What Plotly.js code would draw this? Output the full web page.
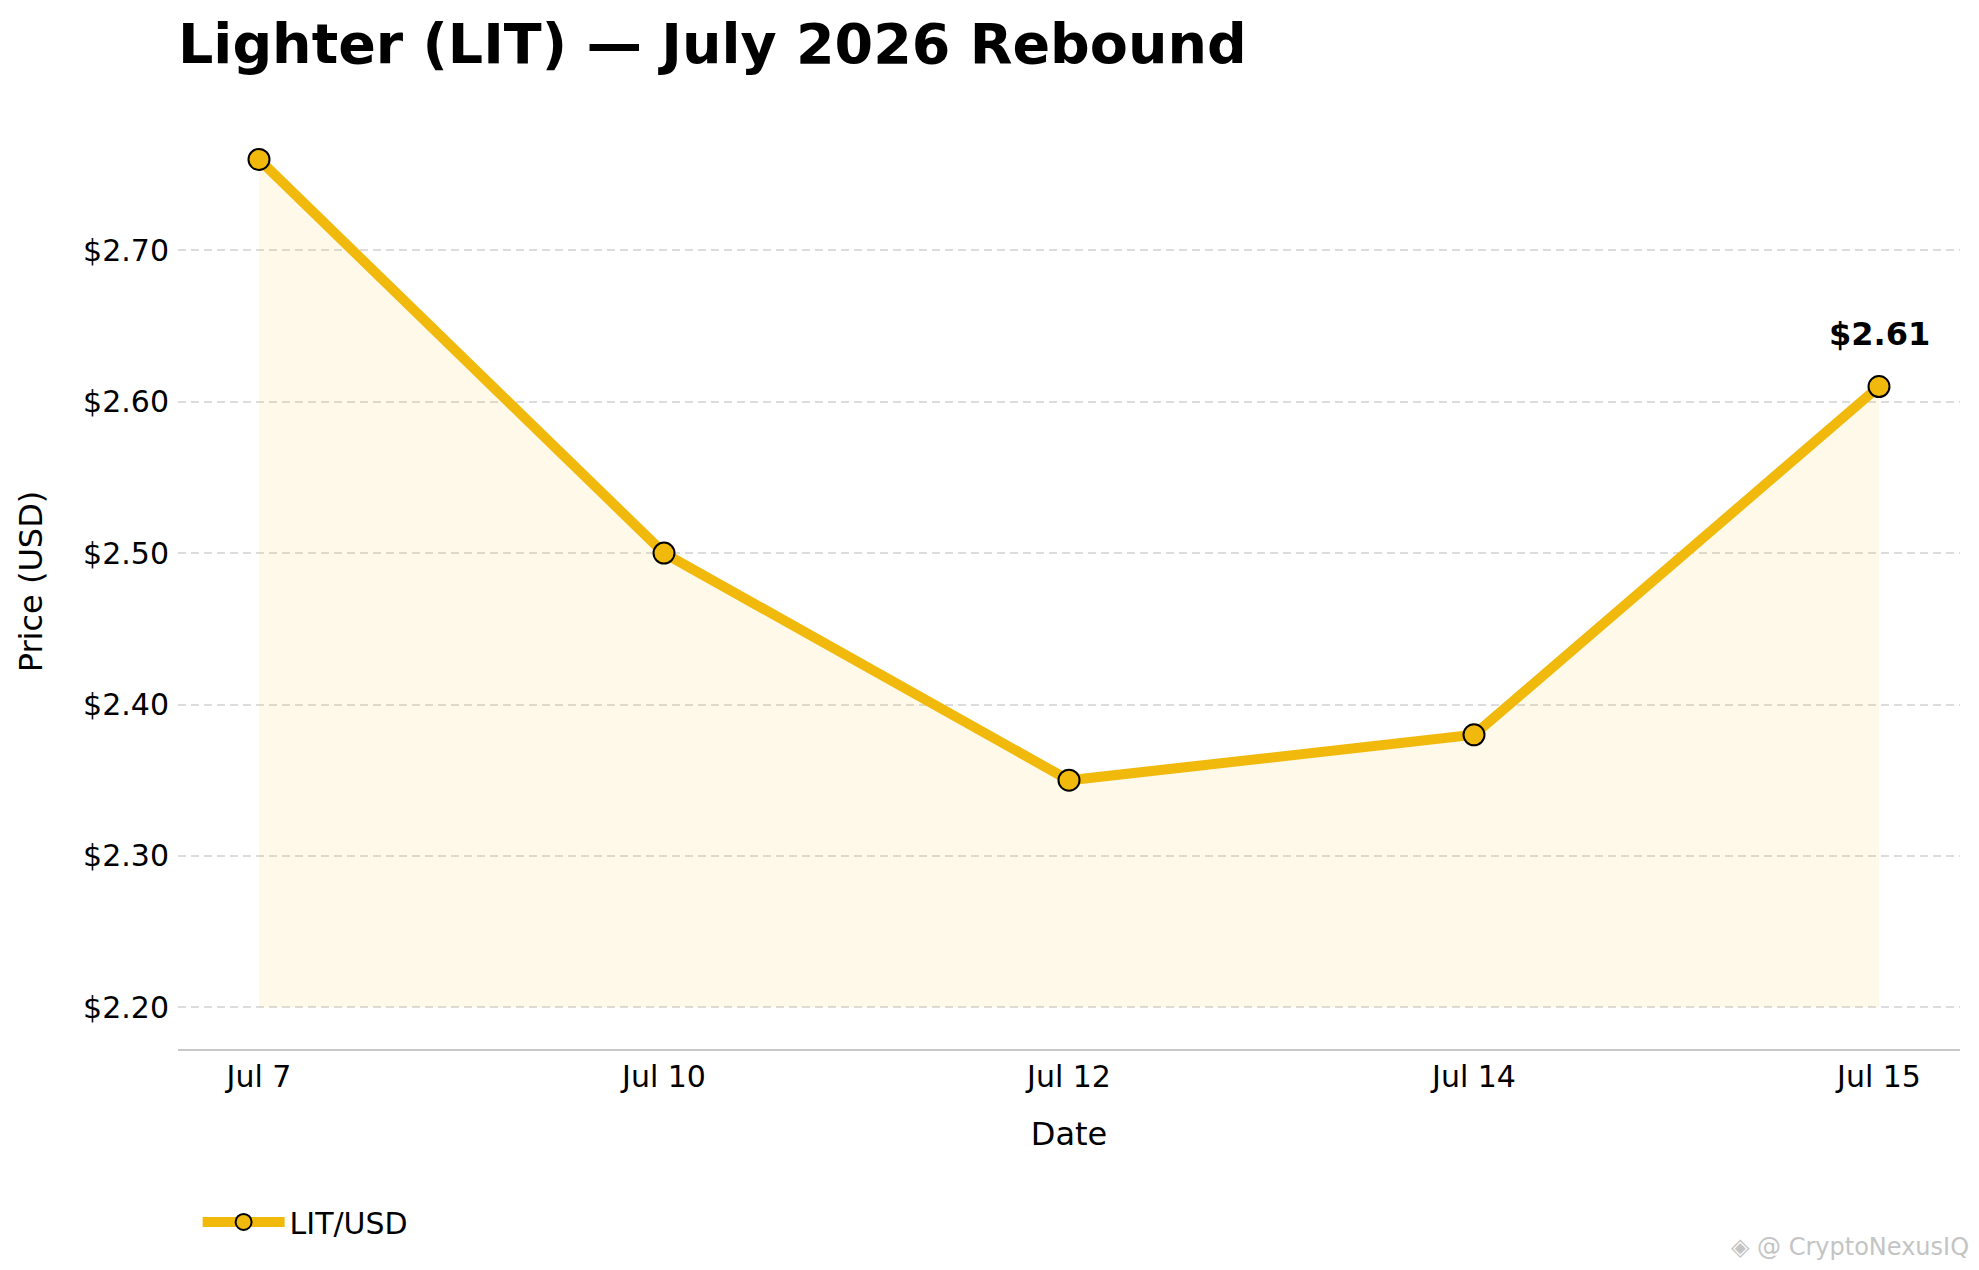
<!DOCTYPE html>
<html>
<head>
<meta charset="utf-8">
<script src="https://cdn.plot.ly/plotly-3.0.1.min.js"></script>
<style>
  html, body { margin: 0; padding: 0; background: #fff; }
  #chart { width: 1979px; height: 1270px; }
</style>
</head>
<body>
<div id="chart"></div>
<script>
// data
const dates = ['Jul 7', 'Jul 10', 'Jul 12', 'Jul 14', 'Jul 15'];
const prices = [2.76, 2.50, 2.35, 2.38, 2.61];
const fillFloor = 2.20;          // shaded area starts here
const yTicks = [2.20, 2.30, 2.40, 2.50, 2.60, 2.70];
const lastLabel = '$2.61';

const gold = '#F0B90B';
const font = 'DejaVu Sans';

// floor line for the shaded area (not shown)
const floorTrace = {
  x: dates,
  y: dates.map(() => fillFloor),
  mode: 'lines',
  line: { width: 0, color: 'rgba(0,0,0,0)' },
  hoverinfo: 'skip',
  showlegend: false
};

const areaTrace = {
  x: dates,
  y: prices,
  mode: 'lines',
  fill: 'tonexty',
  fillcolor: 'rgba(240,185,11,0.09)',
  line: { width: 0, color: 'rgba(0,0,0,0)' },
  hoverinfo: 'skip',
  showlegend: false
};

const priceTrace = {
  x: dates,
  y: prices,
  name: 'LIT/USD',
  mode: 'lines+markers',
  line: { color: gold, width: 10 },
  marker: { color: gold, size: 21, line: { color: '#000', width: 2 } }
};

const layout = {
  width: 1979,
  height: 1270,
  paper_bgcolor: '#fff',
  plot_bgcolor: '#fff',
  font: { family: font, color: '#000', size: 30 },
  margin: { l: 178, r: 19, t: 114, b: 221 },
  title: {
    text: 'Lighter (LIT) — July 2026 Rebound',
    font: { family: font, size: 55.5, weight: 'bold', color: '#000' },
    xref: 'container', x: 178 / 1979, xanchor: 'left',
    yref: 'container', y: 1 - 44 / 1270, yanchor: 'middle'
  },
  xaxis: {
    type: 'category',
    range: [-0.2, 4.2],
    showgrid: false,
    zeroline: false,
    showline: true,
    linecolor: '#c8c8c8',
    linewidth: 2,
    ticks: '',
    ticklabelstandoff: 0,
    tickfont: { size: 30 },
    title: { text: 'Date', font: { size: 32 }, standoff: 30 }
  },
  yaxis: {
    range: [2.1725, 2.79],
    tickvals: yTicks,
    tickformat: '$.2f',
    showgrid: true,
    gridcolor: '#dcdcdc',
    griddash: '8px,5px',
    gridwidth: 2,
    zeroline: false,
    showline: false,
    ticks: '',
    ticklabelstandoff: 8,
    tickfont: { size: 30 },
    title: { text: 'Price (USD)', font: { size: 32 }, standoff: 30 }
  },
  showlegend: true,
  legend: {
    orientation: 'h',
    x: 0.011, xanchor: 'left',
    y: -0.185, yanchor: 'middle',
    itemwidth: 82,
    font: { size: 30 },
    bgcolor: 'rgba(0,0,0,0)'
  },
  annotations: [
    {
      x: dates[dates.length - 1],
      y: prices[prices.length - 1],
      text: lastLabel,
      showarrow: false,
      yanchor: 'bottom',
      yshift: 32,
      font: { family: font, size: 32, weight: 'bold', color: '#000' }
    },
    {
      xref: 'paper', yref: 'paper',
      x: 1.006, y: -0.212,
      xanchor: 'right', yanchor: 'middle',
      text: '◈ @ CryptoNexusIQ',
      showarrow: false,
      font: { family: font, size: 24, color: '#c4c4c4' }
    }
  ]
};

Plotly.newPlot('chart', [floorTrace, areaTrace, priceTrace], layout, { displayModeBar: false, staticPlot: true });
</script>
</body>
</html>
